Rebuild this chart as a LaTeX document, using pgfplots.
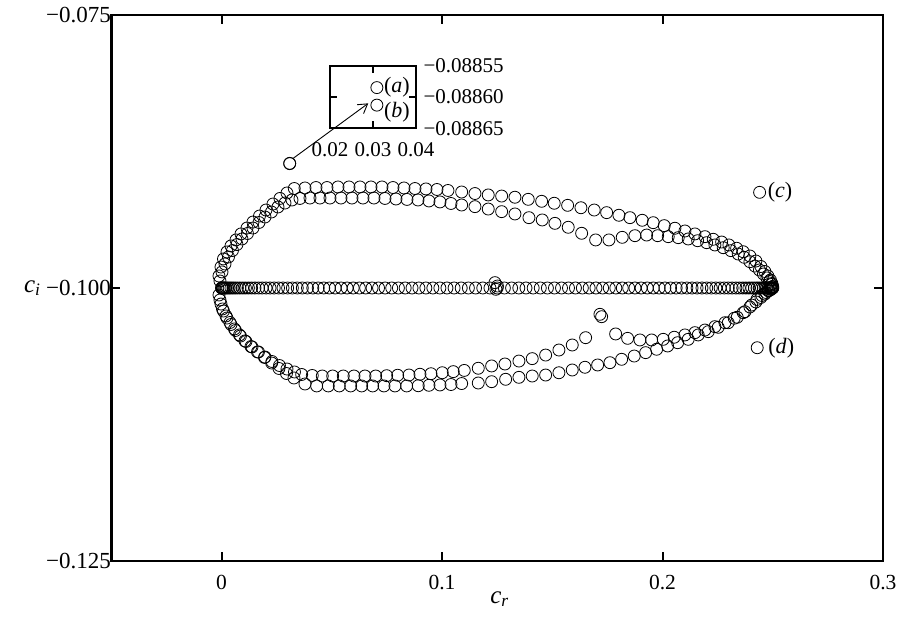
\documentclass[border=0pt]{standalone}
\usepackage{fontspec}
\setmainfont{Liberation Serif}
\usepackage{pgfplots}
\pgfplotsset{compat=1.18}
\usetikzlibrary{arrows.meta}
\pgfplotsset{mk/.style={only marks, mark=o, mark size=6pt, mark options={line width=0.8pt, black}}}
\begin{document}
\begin{tikzpicture}
\path[use as bounding box] (0,0) rectangle (900pt,617pt);
\begin{axis}[
  at={(111.35pt,56pt)}, anchor=south west,
  width=771.65pt, height=546pt, scale only axis,
  xmin=-0.05, xmax=0.3, ymin=-0.125, ymax=-0.075,
  scaled ticks=false,
  xtick={0,0.1,0.2,0.3}, xticklabels={0,0.1,0.2,0.3},
  ytick={-0.125,-0.1,-0.075}, yticklabels={−0.125,−0.100,−0.075},
  axis line style={line width=2.4pt},
  major tick style={line width=2pt, black},
  major tick length=9pt,
  tick align=inside,
  yticklabel style={font=\fontsize{23}{25}\selectfont, xshift=3pt},
  xticklabel style={font=\fontsize{21.5}{24}\selectfont, yshift=-11pt},
  clip=false,
]
% discretised continuous spectrum on c_i = -0.1
\addplot[mk] coordinates {
(0,-0.1)(0.00004,-0.1)(0.00017,-0.1)(0.00039,-0.1)(0.00069,-0.1)(0.00107,-0.1)(0.00154,-0.1)(0.00209,-0.1)(0.00273,-0.1)(0.00345,-0.1)
(0.00426,-0.1)(0.00515,-0.1)(0.00612,-0.1)(0.00717,-0.1)(0.00830,-0.1)(0.00952,-0.1)(0.01081,-0.1)(0.01218,-0.1)(0.01362,-0.1)(0.01515,-0.1)
(0.01675,-0.1)(0.01842,-0.1)(0.02017,-0.1)(0.02198,-0.1)(0.02387,-0.1)(0.02583,-0.1)(0.02786,-0.1)(0.02995,-0.1)(0.03211,-0.1)(0.03433,-0.1)
(0.03661,-0.1)(0.03896,-0.1)(0.04136,-0.1)(0.04382,-0.1)(0.04634,-0.1)(0.04891,-0.1)(0.05153,-0.1)(0.05420,-0.1)(0.05692,-0.1)(0.05969,-0.1)
(0.0625,-0.1)(0.06536,-0.1)(0.06825,-0.1)(0.07119,-0.1)(0.07416,-0.1)(0.07717,-0.1)(0.08020,-0.1)(0.08327,-0.1)(0.08637,-0.1)(0.08950,-0.1)
(0.09265,-0.1)(0.09582,-0.1)(0.09901,-0.1)(0.10222,-0.1)(0.10545,-0.1)(0.10868,-0.1)(0.11193,-0.1)(0.11519,-0.1)(0.11846,-0.1)(0.12173,-0.1)
(0.125,-0.1)
(0.12827,-0.1)(0.13154,-0.1)(0.13481,-0.1)(0.13807,-0.1)(0.14132,-0.1)(0.14455,-0.1)(0.14778,-0.1)(0.15099,-0.1)(0.15418,-0.1)(0.15735,-0.1)
(0.16050,-0.1)(0.16363,-0.1)(0.16673,-0.1)(0.16980,-0.1)(0.17283,-0.1)(0.17584,-0.1)(0.17881,-0.1)(0.18175,-0.1)(0.18464,-0.1)(0.18750,-0.1)
(0.19031,-0.1)(0.19308,-0.1)(0.19580,-0.1)(0.19847,-0.1)(0.20109,-0.1)(0.20366,-0.1)(0.20618,-0.1)(0.20864,-0.1)(0.21104,-0.1)(0.21339,-0.1)
(0.21567,-0.1)(0.21789,-0.1)(0.22005,-0.1)(0.22214,-0.1)(0.22417,-0.1)(0.22613,-0.1)(0.22802,-0.1)(0.22983,-0.1)(0.23158,-0.1)(0.23325,-0.1)
(0.23485,-0.1)(0.23638,-0.1)(0.23782,-0.1)(0.23919,-0.1)(0.24048,-0.1)(0.24170,-0.1)(0.24283,-0.1)(0.24388,-0.1)(0.24485,-0.1)(0.24574,-0.1)
(0.24655,-0.1)(0.24727,-0.1)(0.24791,-0.1)(0.24846,-0.1)(0.24893,-0.1)(0.24932,-0.1)(0.24962,-0.1)(0.24983,-0.1)(0.24996,-0.1)(0.25,-0.1)
};
% outer upper branch
\addplot[mk] coordinates {
(-0.00118,-0.09890)(-0.00027,-0.09808)(0.00086,-0.09734)(0.00245,-0.09670)(0.00426,-0.09615)(0.00653,-0.09560)(0.00880,-0.09505)(0.01152,-0.09451)
(0.01424,-0.09396)(0.01719,-0.09341)(0.02014,-0.09286)(0.02331,-0.09231)(0.02648,-0.09180)(0.02966,-0.09130)(0.03297,-0.09089)(0.03782,-0.09084)
(0.04281,-0.09080)(0.04780,-0.09080)(0.05279,-0.09075)(0.05778,-0.09075)(0.06277,-0.09075)(0.06775,-0.09075)(0.07274,-0.09075)(0.07773,-0.09080)
(0.08272,-0.09084)(0.08771,-0.09089)(0.09270,-0.09093)(0.09769,-0.09098)(0.10268,-0.09107)(0.10889,-0.09121)(0.11492,-0.09135)(0.12095,-0.09148)
(0.12703,-0.09158)(0.13306,-0.09169)(0.13909,-0.09188)(0.14517,-0.09206)(0.15088,-0.09224)(0.15696,-0.09243)(0.16299,-0.09265)(0.16902,-0.09286)
(0.17465,-0.09310)(0.18022,-0.09334)(0.18521,-0.09356)(0.19079,-0.09380)(0.19578,-0.09402)(0.20077,-0.09429)(0.20562,-0.09453)(0.21016,-0.09478)
(0.21469,-0.09505)(0.21923,-0.09530)(0.22299,-0.09554)(0.22680,-0.09579)(0.23011,-0.09606)(0.23360,-0.09636)(0.23660,-0.09668)(0.23963,-0.09707)
(0.24236,-0.09753)(0.24462,-0.09803)(0.24644,-0.09849)(0.24780,-0.09890)(0.24893,-0.09927)(0.24961,-0.09959)(0.24997,-0.09986)
};
% inner upper branch
\addplot[mk] coordinates {
(-0.00073,-0.09936)(0.00018,-0.09853)(0.00154,-0.09780)(0.00313,-0.09716)(0.00494,-0.09657)(0.00698,-0.09602)(0.00925,-0.09551)(0.01175,-0.09501)
(0.01424,-0.09451)(0.01696,-0.09400)(0.01968,-0.09350)(0.02263,-0.09304)(0.02558,-0.09258)(0.02875,-0.09222)(0.03193,-0.09194)(0.03556,-0.09180)
(0.04009,-0.09176)(0.04463,-0.09176)(0.04916,-0.09176)(0.05415,-0.09176)(0.05914,-0.09176)(0.06413,-0.09176)(0.06911,-0.09176)(0.07410,-0.09180)
(0.07909,-0.09185)(0.08408,-0.09189)(0.08907,-0.09194)(0.09406,-0.09203)(0.09905,-0.09212)(0.10404,-0.09226)(0.10889,-0.09240)(0.11492,-0.09255)
(0.12095,-0.09277)(0.12703,-0.09301)(0.13306,-0.09322)(0.13941,-0.09356)(0.14544,-0.09377)(0.15120,-0.09408)(0.15723,-0.09444)(0.16331,-0.09499)
(0.16966,-0.09560)(0.17569,-0.09560)(0.18172,-0.09536)(0.18748,-0.09521)(0.19279,-0.09515)(0.19778,-0.09521)(0.20258,-0.09530)(0.20712,-0.09539)
(0.21165,-0.09551)(0.21592,-0.09567)(0.22000,-0.09585)(0.22376,-0.09606)(0.22753,-0.09631)(0.23102,-0.09658)(0.23433,-0.09689)(0.23705,-0.09719)
(0.23963,-0.09759)(0.24190,-0.09799)(0.24394,-0.09835)(0.24576,-0.09872)(0.24734,-0.09908)(0.24848,-0.09940)(0.24938,-0.09968)(0.24988,-0.09991)
};
% inner lower branch
\addplot[mk] coordinates {
(-0.00118,-0.10064)(-0.00027,-0.10147)(0.00086,-0.10211)(0.00245,-0.10275)(0.00426,-0.10334)(0.00630,-0.10389)(0.00857,-0.10440)(0.01107,-0.10490)
(0.01379,-0.10540)(0.01673,-0.10586)(0.01968,-0.10632)(0.02286,-0.10673)(0.02626,-0.10710)(0.02966,-0.10742)(0.03306,-0.10769)(0.03633,-0.10792)
(0.04113,-0.10801)(0.04567,-0.10806)(0.05038,-0.10806)(0.05519,-0.10806)(0.06004,-0.10806)(0.06503,-0.10806)(0.06989,-0.10806)(0.07487,-0.10803)
(0.07986,-0.10799)(0.08499,-0.10797)(0.08998,-0.10790)(0.09497,-0.10785)(0.10009,-0.10776)(0.10508,-0.10766)(0.11007,-0.10755)(0.11642,-0.10735)
(0.12249,-0.10714)(0.12852,-0.10696)(0.13487,-0.10669)(0.14090,-0.10647)(0.14698,-0.10614)(0.15301,-0.10568)(0.15905,-0.10522)(0.16512,-0.10455)
(0.17161,-0.10241)(0.17238,-0.10263)
(0.17873,-0.10421)(0.18417,-0.10461)(0.18975,-0.10476)(0.19506,-0.10476)(0.20032,-0.10470)(0.20531,-0.10451)(0.21016,-0.10430)(0.21469,-0.10409)
(0.21923,-0.10385)(0.22376,-0.10354)(0.22830,-0.10318)(0.23252,-0.10277)(0.23660,-0.10226)(0.23963,-0.10174)(0.24236,-0.10128)(0.24462,-0.10087)
(0.24644,-0.10055)(0.24803,-0.10027)(0.24916,-0.10014)
};
% outer lower branch
\addplot[mk] coordinates {
(-0.00073,-0.10110)(0.00041,-0.10192)(0.00200,-0.10256)(0.00381,-0.10316)(0.00585,-0.10375)(0.00812,-0.10430)(0.01061,-0.10485)(0.01333,-0.10536)
(0.01628,-0.10586)(0.01946,-0.10636)(0.02272,-0.10687)(0.02603,-0.10737)(0.02943,-0.10783)(0.03283,-0.10824)(0.03782,-0.10879)(0.04313,-0.10897)
(0.04839,-0.10897)(0.05338,-0.10897)(0.05855,-0.10897)(0.06354,-0.10897)(0.06853,-0.10897)(0.07365,-0.10897)(0.07864,-0.10897)(0.08394,-0.10897)
(0.08920,-0.10895)(0.09406,-0.10891)(0.09905,-0.10888)(0.10404,-0.10884)(0.10889,-0.10875)(0.11642,-0.10870)(0.12249,-0.10858)(0.12884,-0.10836)
(0.13487,-0.10818)(0.14090,-0.10806)(0.14698,-0.10797)(0.15301,-0.10776)(0.15905,-0.10751)(0.16481,-0.10726)(0.17057,-0.10705)(0.17614,-0.10684)
(0.18145,-0.10653)(0.18716,-0.10623)(0.19234,-0.10592)(0.19732,-0.10561)(0.20231,-0.10531)(0.20685,-0.10501)(0.21165,-0.10470)(0.21619,-0.10430)
(0.22072,-0.10400)(0.22526,-0.10360)(0.22979,-0.10318)(0.23387,-0.10268)(0.23737,-0.10217)(0.24041,-0.10156)(0.24281,-0.10105)(0.24508,-0.10069)
(0.24689,-0.10041)(0.24825,-0.10023)(0.24929,-0.10009)
};
% isolated modes
\addplot[mk] coordinates {
(0.12399,-0.09951)(0.12444,-0.10012)(0.12512,-0.09982)
(0.0309,-0.088586)(0.0309,-0.088613)
(0.24403,-0.09124)(0.24294,-0.10547)
};
\node[anchor=west, font=\fontsize{22}{24}\selectfont, inner sep=0pt] at (axis cs:0.24403,-0.09124) [xshift=8pt] {(\textit{c})};
\node[anchor=west, font=\fontsize{22}{24}\selectfont, inner sep=0pt] at (axis cs:0.24294,-0.10547) [xshift=11pt] {(\textit{d})};
\draw[-{Straight Barb[length=9pt,width=11pt]}, line width=0.9pt] (axis cs:0.03252,-0.08812) -- (axis cs:0.06653,-0.08309);
\node[font=\fontsize{25}{27}\selectfont] at (rel axis cs:0,0.5) [xshift=-79pt] {\textit{c}\textsubscript{\textit{i}}};
\node[font=\fontsize{25}{27}\selectfont] at (rel axis cs:0.503,0) [yshift=-38pt] {\textit{c}\textsubscript{\textit{r}}};
\end{axis}
% inset
\begin{axis}[
  at={(330pt,488.7pt)}, anchor=south west,
  width=86pt, height=62.6pt, scale only axis,
  xmin=0.02, xmax=0.04, ymin=-0.08865, ymax=-0.08855,
  scaled ticks=false,
  xtick={0.02,0.03,0.04}, xticklabels={0.02,0.03,0.04},
  ytick={-0.08865,-0.0886,-0.08855}, yticklabels={−0.08865,−0.08860,−0.08855},
  yticklabel pos=right,
  axis line style={line width=2.2pt},
  major tick style={line width=1.8pt, black},
  major tick length=7pt,
  tick align=inside,
  ticklabel style={font=\fontsize{21}{23}\selectfont},
  xticklabel style={yshift=-11pt},
  yticklabel style={xshift=4pt},
  clip=false,
]
\addplot[mk] coordinates {
(0.0309,-0.088585)(0.0309,-0.088613)
};
\node[anchor=west, font=\fontsize{22}{24}\selectfont, inner sep=0pt] at (axis cs:0.0309,-0.088585) [xshift=7pt] {(\textit{a})};
\node[anchor=west, font=\fontsize{22}{24}\selectfont, inner sep=0pt] at (axis cs:0.0309,-0.088613) [xshift=7pt, yshift=-7pt] {(\textit{b})};
\end{axis}
\end{tikzpicture}
\end{document}
